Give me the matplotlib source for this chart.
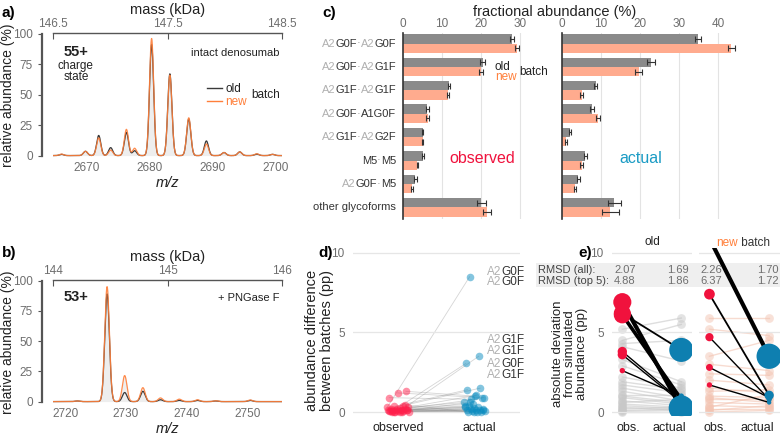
import numpy as np
import matplotlib
matplotlib.use('Agg')
import matplotlib.pyplot as plt
from matplotlib.lines import Line2D
from matplotlib.patches import Rectangle

plt.rcParams['font.family'] = ['Liberation Sans', 'DejaVu Sans']

# ---------------- data ----------------
# panel a: intact, 55+ (peak m/z, old height, new height)
a_mz = [2666.0, 2669.8, 2671.9, 2673.8, 2676.3, 2677.6, 2680.3, 2683.2, 2686.2, 2689.0, 2691.8, 2694.3, 2697.0, 2699.5]
a_old = [1.0, 3.5, 16.5, 6.5, 19.0, 4.0, 91.0, 67.0, 30.0, 12.0, 2.5, 3.0, 1.2, 1.0]
a_new = [1.2, 3.5, 14.5, 4.5, 21.5, 6.0, 96.0, 66.0, 31.0, 9.5, 2.5, 3.0, 1.5, 1.0]
# panel b: + PNGase F, 53+
b_mz = [2722.0, 2726.9, 2729.8, 2732.8, 2735.7, 2738.8, 2741.8, 2744.8, 2750.5]
b_old = [0.5, 89.0, 7.5, 8.5, 1.5, 1.0, 1.0, 0.5, 1.0]
b_new = [0.5, 95.0, 21.5, 11.5, 3.0, 2.0, 1.5, 0.7, 1.3]

# panel c: fractional abundance
glyco = [[('A2', 'g'), ('G0F', 'k'), ('·', 'd'), ('A2', 'g'), ('G0F', 'k')],
         [('A2', 'g'), ('G0F', 'k'), ('·', 'd'), ('A2', 'g'), ('G1F', 'k')],
         [('A2', 'g'), ('G1F', 'k'), ('·', 'd'), ('A2', 'g'), ('G1F', 'k')],
         [('A2', 'g'), ('G0F', 'k'), ('·', 'd'), ('A1G0F', 'k')],
         [('A2', 'g'), ('G1F', 'k'), ('·', 'd'), ('A2', 'g'), ('G2F', 'k')],
         [('M5', 'k'), ('·', 'd'), ('M5', 'k')],
         [('A2', 'g'), ('G0F', 'k'), ('·', 'd'), ('M5', 'k')],
         [('other glycoforms', 'k')]]
obs_old = [27.9, 20.4, 11.8, 6.2, 5.0, 5.1, 3.2, 20.1]
obs_new = [29.3, 20.1, 11.5, 6.3, 5.0, 3.7, 2.3, 21.6]
obs_old_err = [0.6, 0.6, 0.3, 0.4, 0.2, 0.2, 0.3, 1.2]
obs_new_err = [0.5, 0.5, 0.3, 0.4, 0.2, 0.2, 0.2, 1.0]
act_old = [34.8, 22.7, 8.6, 7.8, 2.1, 6.0, 4.2, 13.4]
act_new = [43.4, 19.6, 5.0, 9.3, 1.0, 5.0, 3.4, 12.4]
act_old_err = [0.8, 1.0, 0.4, 0.5, 0.3, 0.4, 0.4, 1.6]
act_new_err = [0.9, 1.0, 0.5, 0.5, 0.3, 0.3, 0.2, 2.2]

# panel d: abundance difference between batches (observed, actual) pairs
d_obs = [0.30, 0.10, 0.05, 1.30, 1.20, 0.90, 0.40, 0.35, 0.30, 0.25, 0.20, 0.20, 0.15, 0.15,
         0.10, 0.10, 0.10, 0.05, 0.05, 0.05, 0.00, 0.00, 0.00, 0.00, 0.45, 0.20, 0.05, 0.00, 0.00, 0.10]
d_act = [8.50, 3.50, 3.05, 1.00, 0.90, 0.80, 1.50, 1.40, 1.05, 0.60, 0.50, 0.85, 0.40, 0.30,
         0.35, 0.25, 0.20, 0.20, 0.15, 0.10, 0.10, 0.05, 0.05, 0.00, 0.00, 0.00, 0.30, 0.00, 0.15, 0.60]
d_labels = [(8.8, 'G0F'), (8.15, 'G0F'), (4.5, 'G1F'), (3.85, 'G1F'), (3.0, 'G0F'), (2.35, 'G1F')]

# panel e: absolute deviation from simulated abundance
e_old_bg_obs = [5.2, 4.5, 4.3, 4.1, 3.3, 2.9, 2.2, 1.9, 1.7, 1.5, 1.3, 1.1, 1.0, 0.9, 0.7, 0.6, 0.5, 0.4, 0.3, 0.2, 0.1, 0.05, 0.0]
e_old_bg_act = [5.9, 5.5, 4.5, 3.2, 1.9, 1.7, 1.5, 1.4, 1.2, 0.9, 0.7, 1.1, 0.6, 0.5, 0.4, 0.8, 0.3, 0.2, 0.1, 0.3, 0.2, 0.1, 0.0]
e_new_bg_obs = [5.9, 5.2, 3.5, 3.0, 2.4, 2.0, 1.3, 1.0, 0.8, 0.6, 0.4, 0.3, 0.2, 0.1, 0.0, 0.9, 1.5]
e_new_bg_act = [5.9, 4.8, 4.5, 2.6, 2.3, 1.7, 1.4, 0.9, 0.8, 0.5, 0.3, 1.1, 0.2, 0.4, 0.1, 0.6, 1.2]
e_old_top_obs = [6.9, 6.2, 6.1, 3.8, 3.6, 2.6]
e_old_top_act = [0.25, 3.9, 0.8, 0.7, 0.6, 1.0]
e_old_top_size = [170, 150, 150, 45, 45, 15]
e_old_top_lw = [3.0, 1.3, 2.6, 1.0, 1.0, 1.0]
e_old_act_size = [330, 300, 25, 20, 15, 15]
e_new_top_obs = [10.9, 7.4, 4.7, 2.8, 1.7]
e_new_top_act = [3.5, 1.05, 0.8, 0.9, 0.6]
e_new_top_size = [180, 60, 35, 25, 15]
e_new_top_lw = [3.0, 1.3, 1.0, 1.0, 1.0]
e_new_act_size = [330, 45, 15, 15, 10]
rmsd_all = ['2.07', '1.69', '2.26', '1.70']
rmsd_top = ['4.88', '1.86', '6.37', '1.72']

# ---------------- style ----------------
DARK = '#222222'
GREY = '#6e6e6e'
LGREY = '#b0b0b0'
OLD_C = '#3a3a3a'
NEW_C = '#ff7f3a'
BAR_OLD = '#8a8a8a'
BAR_NEW = '#ffab8e'
RED = '#f0123d'
BLUE = '#0e7fb0'
CMAP = {'g': LGREY, 'k': '#333333', 'o': NEW_C, 'd': '#8a8a8a'}

W, H = 780, 436
fig = plt.figure(figsize=(7.8, 4.36), dpi=100)


def box(x0, y0, x1, y1):
    return [x0 / W, 1 - y1 / H, (x1 - x0) / W, (y1 - y0) / H]


def rainbow(ax, xy, coords, pieces, fs, ha='right'):
    # multi-coloured text, pieces chained one after another
    seq = list(reversed(pieces)) if ha == 'right' else list(pieces)
    anchor = (0, 0) if ha == 'right' else (1, 0)
    prev = None
    for t, c in seq:
        if prev is None:
            prev = ax.annotate(t, xy=xy, xycoords=coords, ha=ha, va='center', color=CMAP[c],
                               fontsize=fs, annotation_clip=False)
        else:
            prev = ax.annotate(t, xy=anchor, xycoords=prev, ha=ha, va='bottom', color=CMAP[c],
                               fontsize=fs, annotation_clip=False)


def peaks(x, pos, hts, sig):
    return sum(h * np.exp(-(x - p) ** 2 / (2 * sig ** 2)) for p, h in zip(pos, hts))


def spectrum(ax, charge, mlo, mhi, pos, old, new, sig, mticks):
    lo = mlo * 1000 / charge + 1.007
    hi = mhi * 1000 / charge + 1.007
    x = np.linspace(lo, hi, 2000)
    yo = peaks(x, pos, old, sig)
    yn = peaks(x, pos, new, sig)
    ax.fill_between(x, 0, np.maximum(yo, yn), color='#eeeeee', lw=0)
    ax.plot(x, yo, color=OLD_C, lw=0.9)
    ax.plot(x, yn, color=NEW_C, lw=0.9, alpha=0.9)
    ax.set_xlim(lo, hi)
    ax.set_ylim(-2, 100.5)
    for s in ['right', 'bottom', 'top']:
        ax.spines[s].set_visible(False)
    ax.spines['left'].set_position(('outward', 8))
    ax.spines['left'].set_bounds(0, 100)
    ax.spines['left'].set_color('#555555')
    ax.spines['left'].set_linewidth(1.6)
    ax.set_yticks([0, 25, 50, 75, 100])
    ax.tick_params(axis='y', colors='#555555', labelcolor=GREY, labelsize=8.5, length=3)
    ax.tick_params(axis='x', length=0, labelcolor=GREY, labelsize=8.5, pad=3)
    ax.set_xlabel('m/z', style='italic', fontsize=10.5, labelpad=1, color=DARK)
    ax.set_ylabel('relative abundance (%)', fontsize=10, color=DARK)
    ax.yaxis.set_label_coords(-0.165, 0.5)
    sec = ax.secondary_xaxis('top', functions=(lambda m: (m - 1.007) * charge / 1000,
                                               lambda k: k * 1000 / charge + 1.007))
    sec.set_xticks(mticks)
    sec.set_xticklabels([str(t) for t in mticks])
    sec.spines['top'].set_color('#555555')
    sec.spines['top'].set_linewidth(1.0)
    sec.tick_params(direction='in', length=4, colors='#555555', labelcolor=GREY, labelsize=8.5, pad=2)
    sec.set_xlabel('mass (kDa)', fontsize=10.5, color=DARK, labelpad=3)
    return ax


# ---------- a ----------
axa = fig.add_axes(box(53, 33, 282, 158))
spectrum(axa, 55, 146.5, 148.5, a_mz, a_old, a_new, 0.33, [146.5, 147.5, 148.5])
axa.text(0.1, 0.82, '55+', transform=axa.transAxes, fontsize=10.5, fontweight='bold', ha='center', color=DARK)
axa.text(0.1, 0.62, 'charge\nstate', transform=axa.transAxes, fontsize=8.5, ha='center', color=DARK, linespacing=1.0)
axa.text(0.99, 0.82, 'intact denosumab', transform=axa.transAxes, fontsize=8, ha='right', color=DARK)
hl = [Line2D([], [], color=OLD_C, lw=1), Line2D([], [], color=NEW_C, lw=1)]
lg = axa.legend(hl, ['old', 'new'], loc='center', bbox_to_anchor=(0.76, 0.5), frameon=False,
                handlelength=1.2, handletextpad=0.3, labelspacing=0.05, fontsize=8.5, borderpad=0)
lg.get_texts()[0].set_color(DARK)
lg.get_texts()[1].set_color(NEW_C)
axa.text(0.93, 0.5, 'batch', transform=axa.transAxes, fontsize=8.5, ha='center', va='center', color=DARK)
fig.text(2 / W, 1 - 13 / H, 'a)', fontsize=11, fontweight='bold', va='center')

# ---------- b ----------
axb = fig.add_axes(box(53, 280, 282, 404))
spectrum(axb, 53, 144, 146, b_mz, b_old, b_new, 0.38, [144, 145, 146])
axb.set_xticks([2720, 2730, 2740, 2750])
axb.text(0.1, 0.83, '53+', transform=axb.transAxes, fontsize=10.5, fontweight='bold', ha='center', color=DARK)
axb.text(0.99, 0.83, '+ PNGase F', transform=axb.transAxes, fontsize=8, ha='right', color=DARK)
fig.text(2 / W, 1 - 253 / H, 'b)', fontsize=11, fontweight='bold', va='center')

# ---------- c ----------
rows = np.arange(len(glyco))
axc1 = fig.add_axes(box(403, 33, 545, 219))
axc2 = fig.add_axes(box(562, 33, 740, 219))
for ax, vo, vn, eo, en, xmax in [(axc1, obs_old, obs_new, obs_old_err, obs_new_err, 36.4),
                                 (axc2, act_old, act_new, act_old_err, act_new_err, 45.6)]:
    ax.barh(rows - 0.2, vo, height=0.4, color=BAR_OLD, zorder=2)
    ax.barh(rows + 0.2, vn, height=0.4, color=BAR_NEW, zorder=2)
    ax.errorbar(vo, rows - 0.2, xerr=eo, fmt='none', ecolor='#333333', elinewidth=0.8, capsize=2, capthick=0.8, zorder=3)
    ax.errorbar(vn, rows + 0.2, xerr=en, fmt='none', ecolor='#333333', elinewidth=0.8, capsize=2, capthick=0.8, zorder=3)
    ax.set_xlim(0, xmax)
    ax.set_ylim(len(glyco) - 0.5, -0.45)
    ax.xaxis.tick_top()
    ax.tick_params(axis='x', length=0, labelcolor=GREY, labelsize=8.5, pad=2)
    ax.set_yticks([])
    ax.grid(axis='x', color='#e3e3e3', lw=0.8, zorder=0)
    for s in ['top', 'right', 'bottom']:
        ax.spines[s].set_visible(False)
    ax.spines['left'].set_color('#333333')
    ax.spines['left'].set_linewidth(1.2)
    ax.spines['left'].set_zorder(4)
axc1.set_xticks([0, 10, 20, 30])
axc2.set_xticks([0, 10, 20, 30, 40])
for i, pcs in enumerate(glyco):
    rainbow(axc1, (-0.05, i), axc1.get_yaxis_transform(), pcs, 8)
axc1.text(23.5, 1.0, 'old', fontsize=8.5, color=DARK, va='center')
axc1.text(23.5, 1.45, 'new', fontsize=8.5, color=NEW_C, va='center')
axc1.text(33.6, 1.22, 'batch', fontsize=8.5, color=DARK, va='center', ha='center')
axc1.text(0.56, 0.325, 'observed', transform=axc1.transAxes, fontsize=11.5, color=RED, ha='center', va='center')
axc2.text(0.44, 0.325, 'actual', transform=axc2.transAxes, fontsize=11.5, color='#1a9bc4', ha='center', va='center')
fig.text(555 / W, 1 - 12 / H, 'fractional abundance (%)', fontsize=10.5, color=DARK, ha='center', va='center')
fig.text(322 / W, 1 - 13 / H, 'c)', fontsize=11, fontweight='bold', va='center')

# ---------- d ----------
axd = fig.add_axes(box(353, 248, 520, 416))
n = len(d_obs)
jit = ((np.arange(n) * 0.618034) % 1 - 0.5) * 0.27
jit2 = ((np.arange(n) * 0.414214 + 0.3) % 1 - 0.5) * 0.27
xo = 1 + jit
xa = 1.94 + jit2
for i in range(n):
    axd.plot([xo[i], xa[i]], [d_obs[i], d_act[i]], color='#888888', lw=0.6, alpha=0.35, zorder=1)
axd.scatter(xo, d_obs, s=30, color='#ff1f4b', alpha=0.5, lw=0, zorder=2)
axd.scatter(xa, d_act, s=30, color='#0a8cc0', alpha=0.5, lw=0, zorder=2)
axd.set_xlim(0.44, 2.51)
axd.set_ylim(-0.25, 10.3)
axd.set_yticks([0, 5, 10])
axd.set_xticks([1, 2])
axd.set_xticklabels(['observed', 'actual'])
axd.grid(axis='y', color='#e6e6e6', lw=0.9, zorder=0)
axd.tick_params(length=0, labelsize=8.5, labelcolor=GREY, pad=6)
axd.tick_params(axis='x', labelcolor=DARK, labelsize=9, pad=4)
for s in axd.spines.values():
    s.set_visible(False)
axd.set_ylabel('abundance difference\nbetween batches (pp)', fontsize=10.5, color=DARK, linespacing=1.05)
axd.yaxis.set_label_coords(-0.115, 0.45)
for yv, tail in d_labels:
    rainbow(axd, (2.1, yv), 'data', [('A2', 'g'), (tail, 'k')], 8.5, ha='left')
fig.text(318 / W, 1 - 253 / H, 'd)', fontsize=11, fontweight='bold', va='center')

# ---------- e ----------
fig.patches.append(Rectangle((536 / W, 1 - 287 / H), (W - 536) / W, 24 / H,
                             transform=fig.transFigure, color='#efefef', zorder=-1, lw=0))
axe1 = fig.add_axes(box(612, 248, 692, 416))
axe2 = fig.add_axes(box(699, 248, 780, 416))
panels = [(axe1, e_old_bg_obs, e_old_bg_act, '#c8c8c8', e_old_top_obs, e_old_top_act, e_old_top_size, e_old_act_size, e_old_top_lw),
          (axe2, e_new_bg_obs, e_new_bg_act, '#f3c4b2', e_new_top_obs, e_new_top_act, e_new_top_size, e_new_act_size, e_new_top_lw)]
XO, XA = 0.85, 2.28
for ax, bo, ba, bc, to, ta, ts, tas, tlw in panels:
    ax.set_facecolor('none')
    for o, a in zip(bo, ba):
        ax.plot([XO, XA], [o, a], color=bc, lw=1.0, alpha=0.6, zorder=1)
    ax.scatter([XO] * len(bo), bo, s=40, color=bc, alpha=0.5, lw=0, zorder=1)
    ax.scatter([XA] * len(ba), ba, s=40, color=bc, alpha=0.5, lw=0, zorder=1)
    for o, a, lw in zip(to, ta, tlw):
        ax.plot([XO, XA], [o, a], color='black', lw=lw, zorder=3, solid_capstyle='round')
    ax.scatter([XO] * len(to), to, s=ts, color=RED, lw=0, zorder=4)
    ax.scatter([XA] * len(ta), ta, s=tas, color=BLUE, lw=0, zorder=4)
    ax.set_xlim(0.6, 2.54)
    ax.set_ylim(-0.25, 10.3)
    ax.set_yticks([0, 5, 10])
    ax.set_xticks([1, 2])
    ax.set_xticklabels(['obs.', 'actual'])
    ax.grid(axis='y', color='#e6e6e6', lw=0.9, zorder=0)
    ax.tick_params(length=0, labelsize=8.5, labelcolor=GREY, pad=6)
    ax.tick_params(axis='x', labelcolor=DARK, labelsize=9, pad=4)
    for s in ax.spines.values():
        s.set_visible(False)
axe2.set_yticklabels([])
axe1.set_ylabel('absolute deviation\nfrom simulated\nabundance (pp)', fontsize=9.5, color=DARK, linespacing=1.0)
axe1.yaxis.set_label_coords(-0.3, 0.37)
axe1.set_title('old', fontsize=8.5, color=DARK, pad=2)
rainbow(axe2, (716, H - 243), 'figure pixels', [('new', 'o'), (' batch', 'k')], 8.5, ha='left')
fig.text(578 / W, 1 - 253 / H, 'e)', fontsize=11, fontweight='bold', va='center')
fig.text(538 / W, 1 - 270 / H, 'RMSD (all):', fontsize=8, color='#444444', va='center')
fig.text(538 / W, 1 - 281 / H, 'RMSD (top 5):', fontsize=8, color='#444444', va='center')
for yy, vals in [(270, rmsd_all), (281, rmsd_top)]:
    fig.text(614 / W, 1 - yy / H, vals[0], fontsize=8, color=GREY, va='center', ha='left')
    fig.text(689 / W, 1 - yy / H, vals[1], fontsize=8, color=GREY, va='center', ha='right')
    fig.text(700 / W, 1 - yy / H, vals[2], fontsize=8, color=GREY, va='center', ha='left')
    fig.text(779 / W, 1 - yy / H, vals[3], fontsize=8, color=GREY, va='center', ha='right')

fig.savefig('out.png', dpi=100)
